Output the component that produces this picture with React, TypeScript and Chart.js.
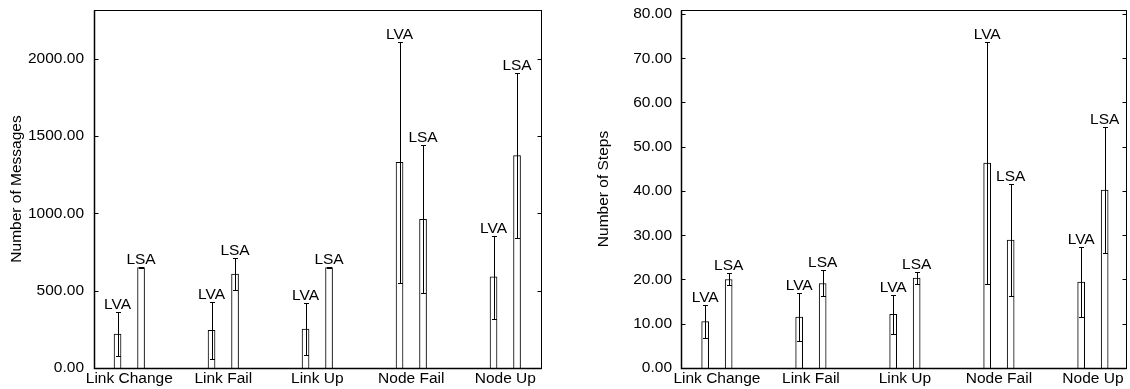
import React, { useEffect, useRef } from 'react';
import { Chart, registerables } from 'chart.js';

Chart.register(...registerables);

const FONT = "'Liberation Sans', Arial, Helvetica, sans-serif";
const FS = 15.5;

const categories = ['Link Change', 'Link Fail', 'Link Up', 'Node Fail', 'Node Up'];
const seriesNames = ['LVA', 'LSA'];

// Number of Messages
const messagesLVA = [220, 244, 252, 1330, 589];
const messagesLVALow = [78, 58, 86, 552, 315];
const messagesLVAHigh = [362, 427, 420, 2107, 856];
const messagesLSA = [649, 608, 649, 962, 1373];
const messagesLSALow = [646, 502, 646, 483, 841];
const messagesLSAHigh = [652, 709, 652, 1440, 1906];
const messagesTicks = [0, 500, 1000, 1500, 2000];

// Number of Steps
const stepsLVA = [10.5, 11.5, 12.1, 46.3, 19.4];
const stepsLVALow = [6.7, 6.0, 7.6, 19.0, 11.5];
const stepsLVAHigh = [14.2, 16.9, 16.4, 73.6, 27.3];
const stepsLSA = [20.0, 19.1, 20.3, 28.9, 40.2];
const stepsLSALow = [18.7, 16.2, 19.0, 16.3, 25.9];
const stepsLSAHigh = [21.4, 22.1, 21.6, 41.5, 54.5];
const stepsTicks = [0, 10, 20, 30, 40, 50, 60, 70, 80];

const GROUP_OFFSET = 0.125;

const errorBarPlugin = {
  id: 'errbars',
  afterDatasetsDraw(chart: any) {
    const ctx = chart.ctx;
    const ys = chart.scales.y;
    ctx.save();
    ctx.strokeStyle = '#000';
    ctx.fillStyle = '#000';
    ctx.lineWidth = 1;
    ctx.font = `${FS}px ${FONT}`;
    ctx.textAlign = 'center';
    ctx.textBaseline = 'alphabetic';
    chart.data.datasets.forEach((ds: any, di: number) => {
      const meta = chart.getDatasetMeta(di);
      meta.data.forEach((el: any, i: number) => {
        const x = Math.round(el.x) + 0.5;
        const yl = Math.round(ys.getPixelForValue(ds.errLow[i])) + 0.5;
        const yh = Math.round(ys.getPixelForValue(ds.errHigh[i])) + 0.5;
        ctx.beginPath();
        ctx.moveTo(x, yl);
        ctx.lineTo(x, yh);
        ctx.moveTo(x - 2.5, yl);
        ctx.lineTo(x + 2.5, yl);
        ctx.moveTo(x - 2.5, yh);
        ctx.lineTo(x + 2.5, yh);
        ctx.stroke();
        const top = Math.min(yh, el.y);
        ctx.fillText(ds.label, el.x, top - 4);
      });
    });
    ctx.restore();
  },
};

const framePlugin = {
  id: 'frame',
  afterDraw(chart: any) {
    const ctx = chart.ctx;
    const a = chart.chartArea;
    const ys = chart.scales.y;
    ctx.save();
    ctx.strokeStyle = '#000';
    ctx.lineWidth = 1;
    const l = Math.round(a.left) + 0.5;
    const r = Math.round(a.right) + 0.5;
    const t = Math.round(a.top) + 0.5;
    const b = Math.round(a.bottom) + 0.5;
    ctx.strokeRect(l, t, r - l, b - t);
    ctx.lineWidth = 1.5;
    ctx.beginPath();
    ctx.moveTo(l, t);
    ctx.lineTo(l, b);
    ctx.lineTo(r, b);
    ctx.stroke();
    ctx.lineWidth = 1;
    ctx.beginPath();
    ys.ticks.forEach((tk: any) => {
      const y = Math.round(ys.getPixelForValue(tk.value)) + 0.5;
      if (y >= b - 1) return;
      ctx.moveTo(l, y);
      ctx.lineTo(l + 4, y);
      ctx.moveTo(r, y);
      ctx.lineTo(r - 4, y);
    });
    ctx.stroke();
    ctx.restore();
  },
};

type Panel = {
  left: number;
  width: number;
  yWidth: number;
  padRight: number;
  titlePad: number;
  tickPad: number;
  xMin: number;
  xMax: number;
  yMax: number;
  yTicks: number[];
  yTitle: string;
  lva: number[];
  lvaLow: number[];
  lvaHigh: number[];
  lsa: number[];
  lsaLow: number[];
  lsaHigh: number[];
};

function PanelChart({ p }: { p: Panel }) {
  const ref = useRef<HTMLCanvasElement | null>(null);
  useEffect(() => {
    if (!ref.current) return;
    const mk = (vals: number[], off: number) =>
      vals.map((v, i) => ({ x: i + off, y: v }));
    const chart = new Chart(ref.current, {
      type: 'bar',
      data: {
        datasets: [
          {
            label: seriesNames[0],
            data: mk(p.lva, -GROUP_OFFSET),
            errLow: p.lvaLow,
            errHigh: p.lvaHigh,
            backgroundColor: '#fff',
            borderColor: '#000',
            borderWidth: 1,
          } as any,
          {
            label: seriesNames[1],
            data: mk(p.lsa, GROUP_OFFSET),
            errLow: p.lsaLow,
            errHigh: p.lsaHigh,
            backgroundColor: '#fff',
            borderColor: '#000',
            borderWidth: 1,
          } as any,
        ],
      },
      options: {
        animation: false,
        responsive: false,
        grouped: false,
        barThickness: 7,
        layout: { padding: { left: 0, top: 10, right: p.padRight, bottom: 0 } },
        plugins: { legend: { display: false }, tooltip: { enabled: false } },
        scales: {
          x: {
            type: 'linear',
            offset: false,
            min: p.xMin,
            max: p.xMax,
            grid: { display: false, drawTicks: false, offset: false },
            border: { display: false },
            afterBuildTicks: (axis: any) => {
              axis.ticks = categories.map((_, i) => ({ value: i }));
            },
            afterFit: (axis: any) => {
              axis.height = 21;
              axis.paddingLeft = 0;
              axis.paddingRight = 0;
            },
            ticks: {
              autoSkip: false,
              maxRotation: 0,
              padding: 1,
              color: '#000',
              font: { family: FONT, size: FS },
              callback: (v: any) => categories[Math.round(Number(v))] ?? '',
            },
          },
          y: {
            type: 'linear',
            min: 0,
            max: p.yMax,
            grid: { display: false, drawTicks: false },
            border: { display: false },
            afterBuildTicks: (axis: any) => {
              axis.ticks = p.yTicks.map((v) => ({ value: v }));
            },
            afterFit: (axis: any) => {
              axis.width = p.yWidth;
              axis.paddingTop = 0;
              axis.paddingBottom = 0;
            },
            ticks: {
              padding: p.tickPad,
              color: '#000',
              font: { family: FONT, size: FS },
              callback: (v: any) => Number(v).toFixed(2),
            },
            title: {
              display: true,
              text: p.yTitle,
              color: '#000',
              font: { family: FONT, size: FS },
              padding: { top: p.titlePad, bottom: 0 },
            },
          },
        },
      } as any,
      plugins: [errorBarPlugin, framePlugin],
    });
    return () => chart.destroy();
  }, [p]);
  return (
    <canvas
      ref={ref}
      width={p.width}
      height={389}
      style={{ position: 'absolute', left: p.left, top: 0, width: p.width, height: 389 }}
    />
  );
}

const leftPanel: Panel = {
  left: 0,
  width: 560,
  yWidth: 94,
  padRight: 19,
  titlePad: 7,
  tickPad: 10,
  xMin: -0.3755,
  xMax: 4.38,
  yMax: 2315,
  yTicks: messagesTicks,
  yTitle: 'Number of Messages',
  lva: messagesLVA,
  lvaLow: messagesLVALow,
  lvaHigh: messagesLVAHigh,
  lsa: messagesLSA,
  lsaLow: messagesLSALow,
  lsaHigh: messagesLSAHigh,
};

const rightPanel: Panel = {
  left: 560,
  width: 570,
  yWidth: 121,
  padRight: 4,
  titlePad: 34,
  tickPad: 9,
  xMin: -0.382,
  xMax: 4.352,
  yMax: 80.9,
  yTicks: stepsTicks,
  yTitle: 'Number of Steps',
  lva: stepsLVA,
  lvaLow: stepsLVALow,
  lvaHigh: stepsLVAHigh,
  lsa: stepsLSA,
  lsaLow: stepsLSALow,
  lsaHigh: stepsLSAHigh,
};

export default function App() {
  return (
    <div style={{ position: 'absolute', left: 0, top: 0, width: 1130, height: 389, background: '#fff' }}>
      <PanelChart p={leftPanel} />
      <PanelChart p={rightPanel} />
    </div>
  );
}
